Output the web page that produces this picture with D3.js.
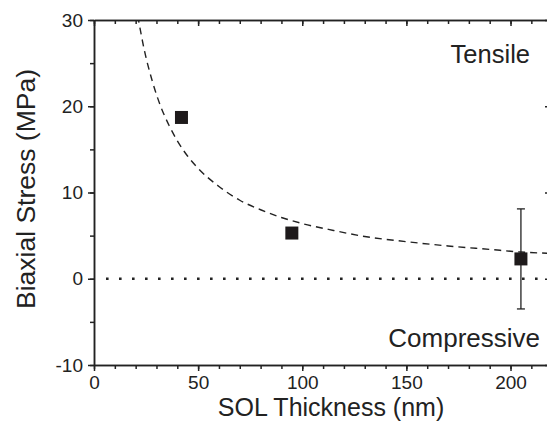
<!DOCTYPE html>
<html>
<head>
<meta charset="utf-8">
<script src="https://cdn.jsdelivr.net/npm/d3@7"></script>
<style>
	body { margin: 0; background: #fff; }
	svg text { font-family: "Liberation Sans", Arial, sans-serif; fill: #222; }
	.axis path, .axis line { stroke: #222; stroke-width: 1.5; }
</style>
</head>
<body>
<div id="svg-div"></div>
<script>
// measured points
var thickness = [42, 95, 205];
var stress = [18.7, 5.3, 2.3];
var errLow = [null, null, -3.5];
var errHigh = [null, null, 8.1];

// dashed fit line
var fitX = [21, 24, 28, 32, 36, 40, 45, 50, 60, 70, 80, 90, 100, 115, 130, 150, 170, 190, 205, 218];
var fitY = [30.5, 26.7, 22.9, 20.0, 17.8, 16.0, 14.2, 12.8, 10.7, 9.1, 8.0, 7.1, 6.4, 5.6, 4.9, 4.3, 3.8, 3.4, 3.1, 2.95];

var xTicks = [0, 50, 100, 150, 200];
var yTicks = [-10, 0, 10, 20, 30];

var chartProperties = {
	outerWidth: 547,
	outerHeight: 429,
	margin: { top: 20, left: 94 },
	plotRight: 548,
	plotBottom: 365
};

var svg = d3.select("#svg-div")
	.append("svg")
	.attr("width", chartProperties.outerWidth)
	.attr("height", chartProperties.outerHeight);

// Scale
var xScale = d3.scaleLinear()
	.domain([0, 218])
	.range([chartProperties.margin.left, chartProperties.plotRight]);

var yScale = d3.scaleLinear()
	.domain([-10, 30])
	.range([chartProperties.plotBottom, chartProperties.margin.top]);

var xMinor = d3.range(0, 219, 10);
var yMinor = d3.range(-10, 31, 5);

// minor ticks first, then major axes on top
function minorAxis(axisFn, scale, values, size) {
	return axisFn(scale).tickValues(values).tickSize(size).tickFormat("");
}

// bottom
svg.append("g").attr("class", "axis")
	.attr("transform", "translate(0," + chartProperties.plotBottom + ")")
	.call(minorAxis(d3.axisBottom, xScale, xMinor, 4).tickSizeOuter(0));
svg.append("g").attr("class", "axis x-axis")
	.attr("transform", "translate(0," + chartProperties.plotBottom + ")")
	.call(d3.axisBottom(xScale).tickValues(xTicks).tickSize(6).tickSizeOuter(0).tickPadding(5)
		.tickFormat(function(d) { return String(d); }));

// top (mirror, inward)
svg.append("g").attr("class", "axis")
	.attr("transform", "translate(0," + chartProperties.margin.top + ")")
	.call(minorAxis(d3.axisBottom, xScale, xMinor, 4).tickSizeOuter(0));
svg.append("g").attr("class", "axis")
	.attr("transform", "translate(0," + chartProperties.margin.top + ")")
	.call(minorAxis(d3.axisBottom, xScale, xTicks, 6).tickSizeOuter(0));

// left
svg.append("g").attr("class", "axis")
	.attr("transform", "translate(" + chartProperties.margin.left + ",0)")
	.call(minorAxis(d3.axisLeft, yScale, yMinor, 4).tickSizeOuter(0));
svg.append("g").attr("class", "axis y-axis")
	.attr("transform", "translate(" + chartProperties.margin.left + ",0)")
	.call(d3.axisLeft(yScale).tickValues(yTicks).tickSize(6).tickSizeOuter(0).tickPadding(5)
		.tickFormat(function(d) { return String(d); }));

// right (mirror, inward, mostly off the picture)
svg.append("g").attr("class", "axis")
	.attr("transform", "translate(" + chartProperties.plotRight + ",0)")
	.call(minorAxis(d3.axisLeft, yScale, yTicks, 3).tickSizeOuter(0));

svg.selectAll(".x-axis text, .y-axis text")
	.style("font-size", "19px");

// zero line
svg.append("line")
	.attr("x1", xScale(0) + 12)
	.attr("x2", xScale(218))
	.attr("y1", yScale(0))
	.attr("y2", yScale(0))
	.attr("stroke", "#222")
	.attr("stroke-width", 2.6)
	.attr("stroke-dasharray", "2.6,10.4");

// fit curve
var fitData = fitX.map(function(x, i) { return [x, fitY[i]]; });
svg.append("defs").append("clipPath").attr("id", "plot-clip")
	.append("rect")
	.attr("x", xScale(0))
	.attr("y", yScale(30))
	.attr("width", xScale(218) - xScale(0))
	.attr("height", yScale(-10) - yScale(30));

svg.append("path")
	.datum(fitData)
	.attr("clip-path", "url(#plot-clip)")
	.attr("fill", "none")
	.attr("stroke", "#222")
	.attr("stroke-width", 1.4)
	.attr("stroke-dasharray", "7,5")
	.attr("d", d3.line()
		.x(function(d) { return xScale(d[0]); })
		.y(function(d) { return yScale(d[1]); })
		.curve(d3.curveMonotoneX));

// error bars
var points = thickness.map(function(x, i) {
	return { x: x, y: stress[i], lo: errLow[i], hi: errHigh[i] };
});
var err = svg.selectAll(".err")
	.data(points.filter(function(d) { return d.lo !== null; }))
	.enter().append("g").attr("class", "err")
	.attr("stroke", "#222")
	.attr("stroke-width", 1.3);
err.append("line")
	.attr("x1", function(d) { return xScale(d.x); })
	.attr("x2", function(d) { return xScale(d.x); })
	.attr("y1", function(d) { return yScale(d.lo); })
	.attr("y2", function(d) { return yScale(d.hi); });
err.append("line")
	.attr("x1", function(d) { return xScale(d.x) - 4; })
	.attr("x2", function(d) { return xScale(d.x) + 4; })
	.attr("y1", function(d) { return yScale(d.lo); })
	.attr("y2", function(d) { return yScale(d.lo); });
err.append("line")
	.attr("x1", function(d) { return xScale(d.x) - 4; })
	.attr("x2", function(d) { return xScale(d.x) + 4; })
	.attr("y1", function(d) { return yScale(d.hi); })
	.attr("y2", function(d) { return yScale(d.hi); });

// squares
var sq = 13;
svg.selectAll(".dot")
	.data(points)
	.enter()
	.append("rect")
	.attr("class", "dot")
	.attr("x", function(d) { return xScale(d.x) - sq / 2; })
	.attr("y", function(d) { return yScale(d.y) - sq / 2; })
	.attr("width", sq)
	.attr("height", sq)
	.attr("fill", "#1e1a1b");

// labels
svg.append("text")
	.attr("x", 530).attr("y", 63)
	.attr("text-anchor", "end")
	.style("font-size", "25.5px")
	.text("Tensile");

svg.append("text")
	.attr("x", 540).attr("y", 347)
	.attr("text-anchor", "end")
	.style("font-size", "26px")
	.text("Compressive");

svg.append("text")
	.attr("x", 331)
	.attr("y", 416)
	.attr("text-anchor", "middle")
	.style("font-size", "25px")
	.text("SOL Thickness (nm)");

svg.append("text")
	.attr("transform", "translate(35,189) rotate(-90)")
	.attr("text-anchor", "middle")
	.style("font-size", "26.5px")
	.text("Biaxial Stress (MPa)");
</script>
</body>
</html>
